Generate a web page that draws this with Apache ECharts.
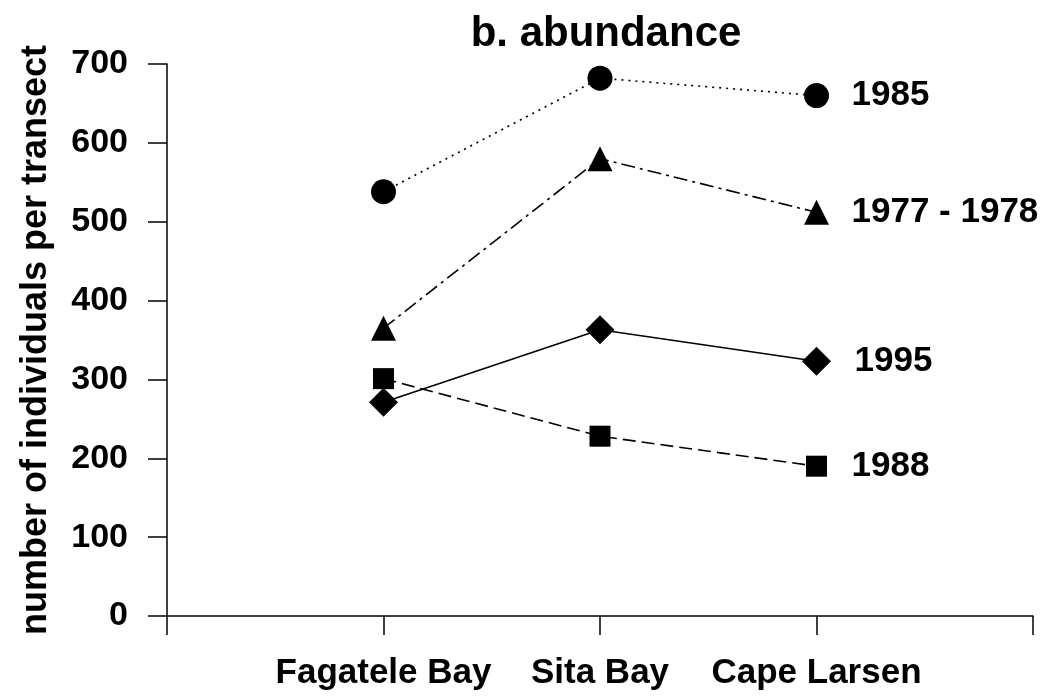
<!DOCTYPE html>
<html><head><meta charset="utf-8">
<script src="https://cdn.jsdelivr.net/npm/echarts@6/dist/echarts.min.js"></script>
<style>html,body{margin:0;padding:0;background:#fff}#c{width:1049px;height:696px}</style>
</head><body><div id="c"></div>
<script>
var sites = ['Fagatele Bay', 'Sita Bay', 'Cape Larsen'];
var yTicks = [0, 100, 200, 300, 400, 500, 600, 700];
var s1985 = [538, 682, 660];
var s1977 = [365, 580, 512];
var s1995 = [271, 363, 323];
var s1988 = [301, 228, 190];

var FONT = '"Liberation Sans", Arial, Helvetica, sans-serif';
var chart = echarts.init(document.getElementById('c'));
function mk(name, vals, symbol, size, ltype, labelDist){
  return {
    name: name, type: 'line', data: vals.map(function(v,i){return [i+1, v];}),
    symbol: symbol, symbolSize: size,
    itemStyle: {color: '#000'},
    lineStyle: {color: '#000', width: 1.6, type: ltype},
    endLabel: {show: true, formatter: name, distance: labelDist,
      fontFamily: FONT, fontWeight: 'bold', fontSize: 35, color: '#000'},
    animation: false
  };
}
chart.setOption({
  animation: false,
  title: {text: 'b. abundance', left: 601, top: 8, textAlign: 'center',
    textStyle: {fontFamily: FONT, fontWeight: 'bold', fontSize: 42, color: '#000'}},
  grid: {left: 167, right: 16, top: 64, bottom: 80},
  xAxis: {type: 'value', min: 0, max: 4, interval: 1,
    axisLine: {show: true, lineStyle: {color: '#000', width: 1.5}},
    axisTick: {show: true, length: 19, lineStyle: {color: '#000', width: 1.5}},
    splitLine: {show: false},
    axisLabel: {margin: 40, fontFamily: FONT, fontWeight: 'bold', fontSize: 35, color: '#000',
      formatter: function(v){ return sites[v-1] || ''; }}
  },
  yAxis: {type: 'value', min: 0, max: 700, interval: 100,
    name: 'number of individuals per transect', nameLocation: 'middle', nameGap: 113,
    nameTextStyle: {fontFamily: FONT, fontWeight: 'bold', fontSize: 36, color: '#000'},
    axisLine: {show: true, lineStyle: {color: '#000', width: 1.5}},
    axisTick: {show: true, length: 19, lineStyle: {color: '#000', width: 1.5}},
    splitLine: {show: false},
    axisLabel: {margin: 39, fontFamily: FONT, fontWeight: 'bold', fontSize: 34, color: '#000',
      formatter: function(v){ return yTicks.indexOf(v) >= 0 ? String(v) : ''; }}
  },
  series: [
    mk('1985', s1985, 'circle', 25, [2, 5], 35),
    mk('1977 - 1978', s1977, 'triangle', 25, [14, 5, 3, 5], 35),
    mk('1995', s1995, 'diamond', 29, 'solid', 38),
    mk('1988', s1988, 'rect', 21, [13, 6], 35)
  ]
});
</script></body></html>
